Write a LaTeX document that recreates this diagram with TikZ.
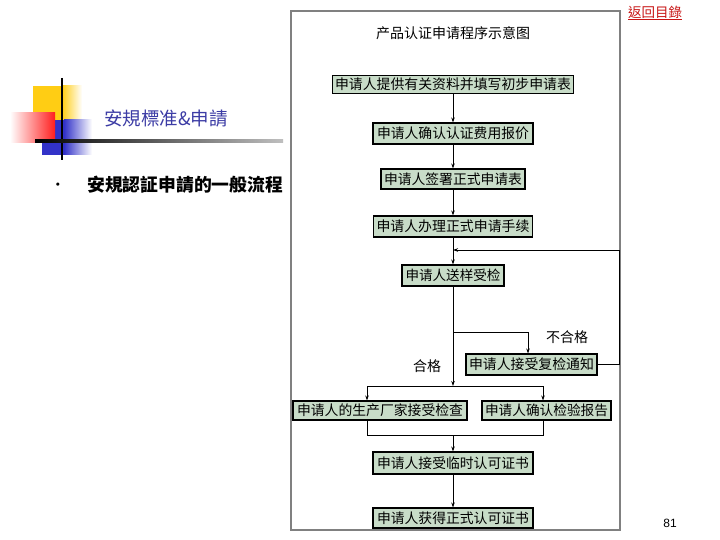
\documentclass[tikz,border=0pt]{standalone}
\usepackage{fontspec}
\usepackage{graphicx}
\usetikzlibrary{arrows.meta,calc}
\newfontfamily\cjksc{Noto Sans CJK SC}
\newfontfamily\cjktc{Noto Sans CJK TC}
\newfontfamily\numfont{Liberation Sans}
\definecolor{boxfill}{RGB}{200,220,200}
\definecolor{titleblue}{RGB}{60,60,165}
\definecolor{linkred}{RGB}{200,20,20}
\definecolor{decoyellow}{RGB}{255,205,20}
\definecolor{decoblue}{RGB}{50,50,200}
\definecolor{decored}{RGB}{255,30,30}
\newcommand{\bt}[2]{\resizebox{#1pt}{!}{#2}}
\begin{document}
\begin{tikzpicture}[x=1pt,y=-1pt,
  box/.style={draw=black,line width=1.1pt,fill=boxfill,inner sep=0pt,font=\cjksc\fontsize{14}{16}\selectfont},
  lbl/.style={font=\cjksc\fontsize{14}{16}\selectfont},
  arr/.style={line width=0.8pt,-{Stealth[length=5pt,width=3.5pt]}},
  ln/.style={line width=0.8pt}]
\useasboundingbox (0,0) rectangle (720,540);
\fill[white] (0,0) rectangle (720,540);
% left decoration
\fill[decoyellow] (33,86) rectangle (62,120);
\shade[left color=decoyellow,right color=white] (62,86) rectangle (82,120);
\fill[decoblue] (42,120) rectangle (64,155);
\shade[left color=decoblue,right color=white] (64,120) rectangle (92,155);
\shade[left color=white,right color=decored] (10,113) rectangle (55,143);
\draw[black,line width=2pt] (62,78) -- (62,160);
\shade[left color=black,right color=gray!50] (35,140) rectangle (283,142.5);
\node[text=titleblue,font=\cjktc\fontsize{18.5}{21}\selectfont] (ttl) at (166,119) {安規標准\&申請};
\node[font=\fontsize{12}{14}\selectfont] (bul) at (58,185) {\textbullet};
\node[anchor=west,inner sep=0pt,font=\cjktc\bfseries\fontsize{17.8}{20}\selectfont] (sub) at (87,185) {安規認証申請的一般流程};
\node[anchor=west,inner sep=0pt,text=linkred,font=\cjktc\fontsize{13.5}{15}\selectfont] (link) at (628,13) {\underline{返回目錄}};
\node[font=\numfont\fontsize{12}{14}\selectfont] (pg) at (670,523) {81};
% frame
\draw[gray,line width=1.2pt] (291,11) rectangle (620,530);
\node[lbl] (title) at (453,33) {产品认证申请程序示意图};
% boxes
\node[box,minimum width=241pt,minimum height=18pt] (b1) at (453,84.5) {\bt{236}{申请人提供有关资料并填写初步申请表}};
\node[box,minimum width=160pt,minimum height=21pt] (b2) at (453,133.5) {\bt{152}{申请人确认认证费用报价}};
\node[box,minimum width=144pt,minimum height=20pt] (b3) at (453,179) {\bt{138}{申请人签署正式申请表}};
\node[box,minimum width=159pt,minimum height=21pt] (b4) at (453,226.5) {\bt{153}{申请人办理正式申请手续}};
\node[box,minimum width=102pt,minimum height=21pt] (b5) at (453,275.5) {\bt{95}{申请人送样受检}};
\node[box,minimum width=131pt,minimum height=21pt] (b6) at (531.5,364.5) {\bt{125}{申请人接受复检通知}};
\node[box,minimum width=174pt,minimum height=19pt] (b7) at (380,410.5) {\bt{166}{申请人的生产厂家接受检查}};
\node[box,minimum width=129pt,minimum height=19pt] (b8) at (546.5,410.5) {\bt{123}{申请人确认检验报告}};
\node[box,minimum width=160pt,minimum height=22pt] (b9) at (453,463) {\bt{152}{申请人接受临时认可证书}};
\node[box,minimum width=160pt,minimum height=20pt] (b10) at (453,518) {\bt{152}{申请人获得正式认可证书}};
\node[lbl] (fail) at (567,337) {不合格};
\node[lbl] (pass) at (427,366) {合格};
% coordinates
\coordinate (fb) at (453,250);
\coordinate (j1) at (453,332);
\coordinate (j2) at (453,386);
\coordinate (j3) at (453,435);
\coordinate (t6) at ($(b6.north)+(-3.5,0)$);
\coordinate (t7) at ($(b7.north)+(-13,0)$);
\coordinate (t8) at ($(b8.north)+(-3.5,0)$);
\coordinate (s7) at ($(b7.south)+(-13,0)$);
\coordinate (s8) at ($(b8.south)+(-3.5,0)$);
% connectors
\draw[arr] (b1) -- (b2);
\draw[arr] (b2) -- (b3);
\draw[arr] (b3) -- (b4);
\draw[arr] (b4) -- (b5);
\draw[ln] (b5) -- (j1);
\draw[arr] (j1) -- (j2);
\draw[arr] (j1) -| (t6);
\draw[arr] (b6.east) -- ++(22,0) |- (fb);
\draw[arr] (j2) -| (t7);
\draw[arr] (j2) -| (t8);
\draw[ln] (s7) -- (s7 |- j3) -- (s8 |- j3) -- (s8);
\draw[arr] (j3) -- (b9);
\draw[arr] (b9) -- (b10);
\end{tikzpicture}
\end{document}
